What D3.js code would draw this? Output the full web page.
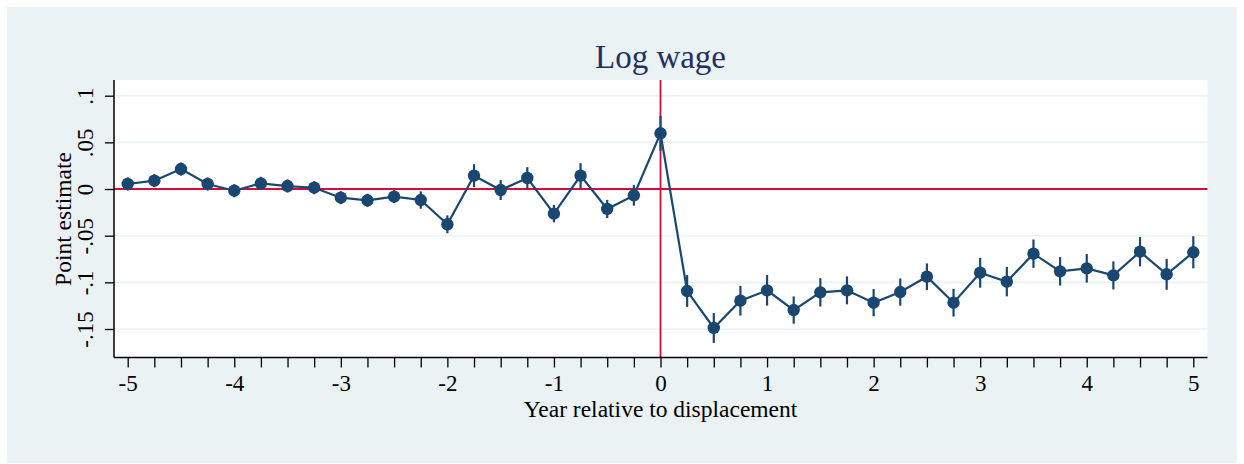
<!DOCTYPE html>
<html>
<head>
<meta charset="utf-8">
<script src="https://cdn.jsdelivr.net/npm/d3@7"></script>
<style>
  html, body { margin: 0; padding: 0; background: #ffffff; }
  svg { display: block; }
  text { font-family: "Liberation Serif", "Times New Roman", serif; }
</style>
</head>
<body>
<div id="chart"></div>
<script>
// ---- Data ----
const years = [-5,-4.75,-4.5,-4.25,-4,-3.75,-3.5,-3.25,-3,-2.75,-2.5,-2.25,-2,-1.75,-1.5,-1.25,-1,-0.75,-0.5,-0.25,
               0,0.25,0.5,0.75,1,1.25,1.5,1.75,2,2.25,2.5,2.75,3,3.25,3.5,3.75,4,4.25,4.5,4.75,5];
const estimates = [0.0054,0.0089,0.0214,0.0054,-0.0018,0.0061,0.0032,0.0014,-0.0093,-0.0121,-0.0082,-0.0118,-0.0378,0.0143,-0.0011,0.0118,-0.0264,0.0143,-0.0214,-0.0068,
                   0.0597,-0.1093,-0.1489,-0.1197,-0.1086,-0.1297,-0.1107,-0.1086,-0.1218,-0.1104,-0.0940,-0.1218,-0.0897,-0.0993,-0.0693,-0.0882,-0.0850,-0.0925,-0.0672,-0.0914,-0.0678];
const ciHalf = [0.007,0.007,0.007,0.007,0.007,0.007,0.007,0.007,0.007,0.007,0.007,0.0093,0.0096,0.0123,0.0107,0.0116,0.0093,0.0134,0.0098,0.011,
                0.0188,0.017,0.016,0.0159,0.0163,0.0146,0.0152,0.015,0.0146,0.0146,0.0143,0.0148,0.016,0.0157,0.0152,0.0152,0.0153,0.015,0.0157,0.0166,0.0172];
const xTickLabels = [-5,-4,-3,-2,-1,0,1,2,3,4,5];
const xMinorTicks = years;
const yTickLabels = [0.1,0.05,0,-0.05,-0.1,-0.15];
const titleText = "Log wage";
const xTitle = "Year relative to displacement";
const yTitle = "Point estimate";

// ---- Layout ----
const W = 1244, H = 464;
const plot = {left: 114, right: 1207.5, top: 80, bottom: 357.5};
const navy = "#1a476f";
const red = "#d0103a";

const svg = d3.select("#chart").append("svg").attr("width", W).attr("height", H);

// outer background
svg.append("rect").attr("x", 7).attr("y", 7).attr("width", 1230).attr("height", 456).attr("fill", "#eaf2f3");
// plot region
svg.append("rect").attr("x", plot.left).attr("y", plot.top)
   .attr("width", plot.right - plot.left).attr("height", plot.bottom - plot.top).attr("fill", "#ffffff");

const x = d3.scaleLinear().domain([-5, 5]).range([127.7, 1193.3]);
const y = d3.scaleLinear().domain([0.1, -0.15]).range([95.7, 329]);

// gridlines
svg.append("g").selectAll("line").data(yTickLabels).join("line")
  .attr("x1", plot.left).attr("x2", plot.right)
  .attr("y1", d => y(d)).attr("y2", d => y(d))
  .attr("stroke", "#eaf2f3").attr("stroke-width", 1.6);

// reference lines
svg.append("line").attr("x1", plot.left).attr("x2", plot.right)
  .attr("y1", y(0)).attr("y2", y(0)).attr("stroke", red).attr("stroke-width", 1.8);
svg.append("line").attr("x1", x(0)).attr("x2", x(0))
  .attr("y1", plot.top).attr("y2", plot.bottom).attr("stroke", red).attr("stroke-width", 1.8);

// axes
const fmtY = d => d === 0 ? "0" : (d < 0 ? "-" : "") + String(Math.abs(d)).replace(/^0\./, ".");
const fmtX = d => (d < 0 ? "-" : "") + Math.abs(d);
const yAxis = d3.axisLeft(y).tickValues(yTickLabels).tickSize(9).tickPadding(0).tickFormat(fmtY);
const gy = svg.append("g").attr("transform", `translate(${plot.left},0)`).call(yAxis);
gy.select(".domain").remove();
gy.selectAll(".tick line").attr("stroke", "#000").attr("stroke-width", 1.3);
gy.selectAll(".tick text").attr("font-size", 23).attr("fill", "#000")
  .attr("font-family", "Liberation Serif, serif")
  .attr("text-anchor", "middle").attr("x", 0).attr("dy", 0)
  .attr("transform", "translate(-21,0) rotate(-90)");
svg.append("line").attr("x1", plot.left).attr("x2", plot.left).attr("y1", plot.top).attr("y2", plot.bottom)
  .attr("stroke", "#000").attr("stroke-width", 1.5);

const xAxisMinor = d3.axisBottom(x).tickValues(xMinorTicks).tickSize(10).tickFormat("");
const gxm = svg.append("g").attr("transform", `translate(0,${plot.bottom})`).call(xAxisMinor);
gxm.select(".domain").remove();
gxm.selectAll(".tick line").attr("stroke", "#000").attr("stroke-width", 1.3);
const xAxis = d3.axisBottom(x).tickValues(xTickLabels).tickSize(0).tickPadding(0).tickFormat(fmtX);
const gx = svg.append("g").attr("transform", `translate(0,${plot.bottom})`).call(xAxis);
gx.select(".domain").remove();
gx.selectAll(".tick text").attr("font-size", 23).attr("fill", "#000")
  .attr("font-family", "Liberation Serif, serif").attr("y", 33.5).attr("dy", 0);
svg.append("line").attr("x1", plot.left).attr("x2", plot.right).attr("y1", plot.bottom).attr("y2", plot.bottom)
  .attr("stroke", "#000").attr("stroke-width", 1.5);

// data
const data = years.map((yr, i) => ({yr, est: estimates[i], h: ciHalf[i]}));

svg.append("g").selectAll("line").data(data).join("line")
  .attr("x1", d => x(d.yr)).attr("x2", d => x(d.yr))
  .attr("y1", d => y(d.est + d.h)).attr("y2", d => y(d.est - d.h))
  .attr("stroke", navy).attr("stroke-width", 2.2);

svg.append("path").datum(data)
  .attr("d", d3.line().x(d => x(d.yr)).y(d => y(d.est)))
  .attr("fill", "none").attr("stroke", navy).attr("stroke-width", 2.2);

svg.append("g").selectAll("circle").data(data).join("circle")
  .attr("cx", d => x(d.yr)).attr("cy", d => y(d.est)).attr("r", 6.2)
  .attr("fill", navy);

// titles
svg.append("text").attr("x", 660.5).attr("y", 67.5).attr("text-anchor", "middle")
  .attr("font-size", 33).attr("fill", "#1e3161").text(titleText);
svg.append("text").attr("x", 660.5).attr("y", 417).attr("text-anchor", "middle")
  .attr("font-size", 23.5).attr("fill", "#000").text(xTitle);
svg.append("text").attr("transform", `translate(71,219) rotate(-90)`).attr("text-anchor", "middle")
  .attr("font-size", 23.5).attr("fill", "#000").text(yTitle);
</script>
</body>
</html>
